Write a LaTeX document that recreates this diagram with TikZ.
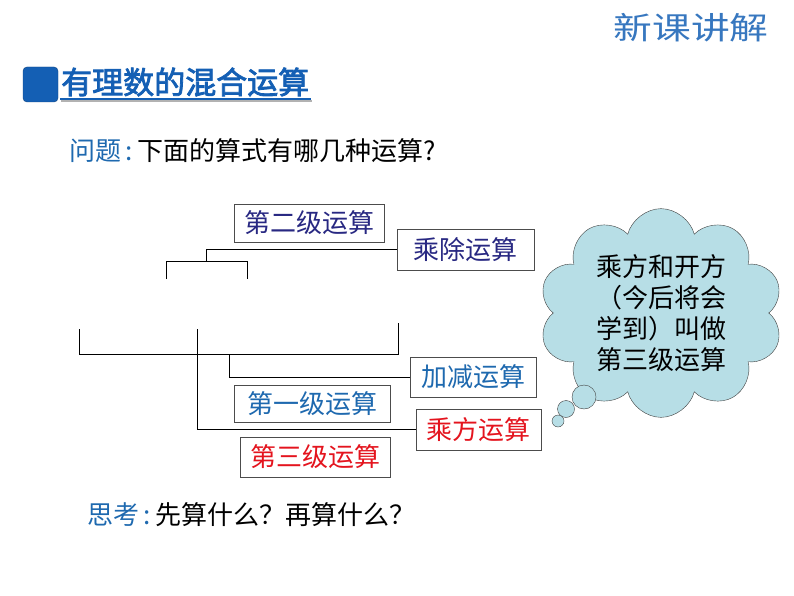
\documentclass[tikz,border=0pt]{standalone}
\usepackage{fontspec}
\usepackage{tikz}
\usetikzlibrary{shapes.symbols}
\newfontfamily\cjk{Noto Sans CJK SC}
\newfontfamily\cjkb[FakeBold=2.5]{Noto Sans CJK SC}
\definecolor{navytext}{RGB}{40,40,130}
\definecolor{bluetext}{RGB}{30,105,175}
\definecolor{redtext}{RGB}{228,20,30}
\definecolor{titleblue}{RGB}{20,95,180}
\definecolor{cloudfill}{RGB}{183,222,230}

\begin{document}
\begin{tikzpicture}[
  x=1pt, y=-1pt,
  every node/.style={font=\cjk\fontsize{26}{31}\selectfont, inner sep=0pt},
  opbox/.style={rectangle, draw=black!70, semithick, fill=white, minimum height=39},
  link/.style={draw=black, semithick}
]
\useasboundingbox (0,0) rectangle (794,596);

% --- HEADER ---
\node[text=titleblue!85, xscale=1.25, font=\cjk\fontsize{31}{31}\selectfont] (lesson) at (691,28) {新课讲解};
\node[rectangle, rounded corners=4pt, fill=titleblue, draw=titleblue!70!black, minimum width=35, minimum height=35] (mark) at (40.5,84.5) {};
\node[anchor=west, text=titleblue, font=\cjkb\fontsize{31}{31}\selectfont] (title) at (61,82) {有理数的混合运算};
\draw[black!30, line width=2pt] (61,101.5) -- (312,101.5);
\draw[titleblue, line width=2.5pt] (60,99) -- (311,99);

% --- QUESTION ---
\node[anchor=west] (question) at (69,151) {\textcolor{bluetext}{问题\,:\,}下面的算式有哪几种运算?};

% --- OPERATION BOXES ---
\node[opbox, text=navytext, minimum width=150, minimum height=38] (lvtwo) at (309,223) {第二级运算};
\node[opbox, text=navytext, minimum width=137, minimum height=41] (muldiv) at (465.5,249.5) {乘除运算};
\node[opbox, text=bluetext, minimum width=126, minimum height=40] (addsub) at (473,377) {加减运算};
\node[opbox, text=bluetext, minimum width=156, minimum height=37] (lvone) at (312,403.5) {第一级运算};
\node[opbox, text=redtext, minimum width=125, minimum height=41] (power) at (478.5,429.5) {乘方运算};
\node[opbox, text=redtext, minimum width=150, minimum height=40] (lvthree) at (315,457) {第三级运算};

% --- BRACKETS ---
\coordinate (smallL) at (166,279);
\coordinate (smallR) at (247,279);
\coordinate (smallTop) at (206,261);
\coordinate (bigL) at (79,329);
\coordinate (bigR) at (398,323);
\coordinate (addTap) at (229,354);
\coordinate (powTap) at (197,329);

\draw[link] (smallL) -- ++(0,-18) -| (smallR);
\draw[link] (muldiv.west) -| (smallTop);
\draw[link] (bigL) -- ++(0,25) -| (bigR);
\draw[link] (addTap) |- (addsub.west);
\draw[link] (powTap) |- (power.west);

% --- THOUGHT CLOUD ---
\node[cloud, cloud puffs=10, aspect=1.3, draw=black!75, fill=cloudfill, minimum width=232, minimum height=184, align=center] (note) at (661,313) {乘方和开方\\（今后将会\\学到）叫做\\第三级运算};
\node[circle, draw=black!75, fill=cloudfill, minimum size=24] (bubA) at (584,397) {};
\node[circle, draw=black!75, fill=cloudfill, minimum size=17] (bubB) at (566,409) {};
\node[circle, draw=black!75, fill=cloudfill, minimum size=12] (bubC) at (558,421) {};

% --- THINK ---
\node[anchor=west] (think) at (87,515) {\textcolor{bluetext}{思考\,:\,}先算什么？再算什么？};

\end{tikzpicture}
\end{document}
